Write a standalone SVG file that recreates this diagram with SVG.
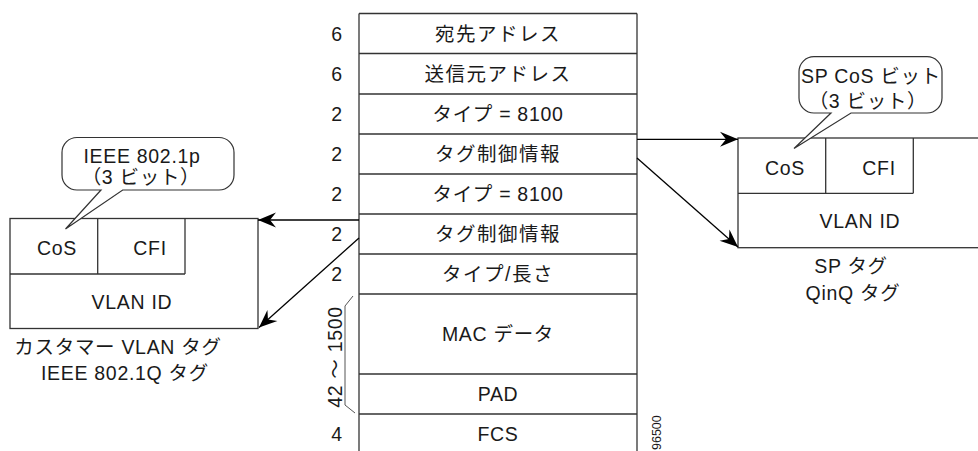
<svg xmlns="http://www.w3.org/2000/svg" width="978" height="451" viewBox="0 0 978 451">
<defs>
<style>
text{font-family:"Liberation Sans","Noto Sans CJK JP",sans-serif;font-size:19.5px;fill:#1a1a1a;letter-spacing:0.7px}
.c{text-anchor:middle}
.j{letter-spacing:1.5px}
.box{fill:none;stroke:#333;stroke-width:1.3}
.row{stroke:#333;stroke-width:1.3}
.br{fill:none;stroke:#555;stroke-width:1}
.arr{stroke:#000;stroke-width:1.3;fill:none;marker-end:url(#ah)}
.call{fill:#fff;stroke:#333;stroke-width:1.2}
</style>
<marker id="ah" markerUnits="userSpaceOnUse" viewBox="-18 -8 20 16" markerWidth="20" markerHeight="16" refX="0" refY="0" orient="auto" overflow="visible">
<path d="M0,0 L-18,-7.5 L-12,0 L-18,7.5 Z" fill="#000"/>
</marker>
</defs>

<g id="frame">
<line class="row" x1="359" y1="13.5" x2="359" y2="451"/>
<line class="row" x1="637" y1="13.5" x2="637" y2="451"/>
<line class="row" x1="359" y1="13.5" x2="637" y2="13.5"/>
<line class="row" x1="359" y1="53.5" x2="637" y2="53.5"/>
<line class="row" x1="359" y1="94" x2="637" y2="94"/>
<line class="row" x1="359" y1="134" x2="637" y2="134"/>
<line class="row" x1="359" y1="174" x2="637" y2="174"/>
<line class="row" x1="359" y1="214" x2="637" y2="214"/>
<line class="row" x1="359" y1="254" x2="637" y2="254"/>
<line class="row" x1="359" y1="294" x2="637" y2="294"/>
<line class="row" x1="359" y1="374" x2="637" y2="374"/>
<line class="row" x1="359" y1="414" x2="637" y2="414"/>
</g>

<g id="fields">
<text class="c j" x="498" y="41">宛先アドレス</text>
<text class="c j" x="498" y="81">送信元アドレス</text>
<text class="c" x="498" y="121">タイプ = 8100</text>
<text class="c j" x="498" y="161">タグ制御情報</text>
<text class="c" x="498" y="201">タイプ = 8100</text>
<text class="c j" x="498" y="241">タグ制御情報</text>
<text class="c j" x="498" y="281">タイプ/長さ</text>
<text class="c" x="498" y="341">MAC データ</text>
<text class="c" x="498" y="401">PAD</text>
<text class="c" x="498" y="441">FCS</text>
</g>

<g id="sizes">
<text class="c" x="337" y="41">6</text>
<text class="c" x="337" y="81">6</text>
<text class="c" x="337" y="121">2</text>
<text class="c" x="337" y="161">2</text>
<text class="c" x="337" y="201">2</text>
<text class="c" x="337" y="241">2</text>
<text class="c" x="337" y="281">2</text>
<text class="c" x="337" y="441">4</text>
<path class="br" d="M353,296 L345,306 L345,405 L355,413"/>
<text class="c" xml:space="preserve" transform="translate(342,357) rotate(-90)" x="0" y="0">42 ～ 1500</text>
</g>

<g id="customer-tag">
<rect class="box" x="10" y="218.5" width="248" height="110"/>
<line class="row" x1="10" y1="274" x2="185" y2="274"/>
<line class="row" x1="97.7" y1="218.5" x2="97.7" y2="274"/>
<line class="row" x1="185" y1="218.5" x2="185" y2="274"/>
<text class="c" x="57" y="255">CoS</text>
<text class="c" x="150" y="255">CFI</text>
<text class="c" x="132" y="309">VLAN ID</text>
<text class="c" x="118" y="354">カスタマー VLAN タグ</text>
<text class="c" x="125" y="380">IEEE 802.1Q タグ</text>
</g>

<g id="customer-callout">
<path class="call" d="M77,137.5 H219 A15,15 0 0 1 234,152.5 V175 A15,15 0 0 1 219,190 H122.7 L65.5,229 L101,190 H77 A15,15 0 0 1 62,175 V152.5 A15,15 0 0 1 77,137.5 Z"/>
<text class="c" x="142" y="163">IEEE 802.1p</text>
<text class="c" x="141" y="184">（3 ビット）</text>
</g>

<g id="sp-tag">
<rect class="box" x="738" y="138" width="260" height="109.7"/>
<line class="row" x1="738" y1="193.3" x2="913.3" y2="193.3"/>
<line class="row" x1="825.7" y1="138" x2="825.7" y2="193.3"/>
<line class="row" x1="913.3" y1="138" x2="913.3" y2="193.3"/>
<text class="c" x="785" y="175">CoS</text>
<text class="c" x="879" y="175">CFI</text>
<text class="c" x="860" y="228">VLAN ID</text>
<text class="c" x="851" y="273">SP タグ</text>
<text class="c" x="853" y="300">QinQ タグ</text>
</g>

<g id="sp-callout">
<path class="call" d="M814,56.7 H927 A15,15 0 0 1 942,71.7 V98 A15,15 0 0 1 927,113 H851 L794,148.5 L831,113 H814 A15,15 0 0 1 799,98 V71.7 A15,15 0 0 1 814,56.7 Z"/>
<text class="c" x="871" y="83">SP CoS ビット</text>
<text class="c" x="868" y="108">（3 ビット）</text>
</g>

<g id="connectors">
<line class="arr" x1="637" y1="139.3" x2="738" y2="139.3"/>
<line class="arr" x1="637" y1="158" x2="738" y2="247"/>
<line class="arr" x1="359" y1="220" x2="258" y2="220"/>
<line class="arr" x1="359" y1="238" x2="259" y2="327.5"/>
</g>

<text x="0" y="0" transform="translate(661,450) rotate(-90)" style="font-size:12.5px;letter-spacing:0">96500</text>
</svg>
